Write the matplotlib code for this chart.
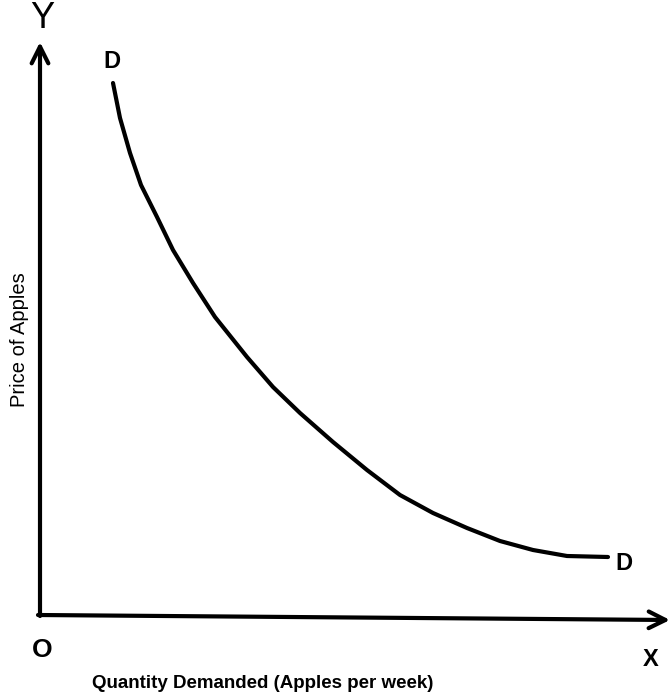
import numpy as np
import matplotlib
matplotlib.use("Agg")
import matplotlib.pyplot as plt

# demand curve (quantity, price) in arbitrary units
quantity = [73, 80, 90, 101, 117, 133, 153, 175, 207, 233, 260, 293,
            327, 360, 393, 427, 460, 493, 527, 568]
price = [531, 496, 461, 429, 397, 364, 331, 297, 257, 227, 201, 172,
         144, 119, 101, 86, 73, 64, 58, 57]

x_label = "Quantity Demanded (Apples per week)"
y_label = "Price of Apples"

plt.rcParams['font.family'] = ['Liberation Sans', 'DejaVu Sans']

fig = plt.figure(figsize=(6.72, 7.0), dpi=100)
ax = fig.add_axes([40 / 672, 86 / 700, 628 / 672, 572 / 700])
ax.set_xlim(0, 628)
ax.set_ylim(0, 572)
ax.axis('off')

# axes drawn as arrows
ax.annotate('', xy=(0, 572), xytext=(0, -2),
            arrowprops=dict(arrowstyle='->', lw=3, color='black',
                            mutation_scale=30, shrinkA=0, shrinkB=0),
            annotation_clip=False)
ax.annotate('', xy=(630, -6), xytext=(-2, -1),
            arrowprops=dict(arrowstyle='->', lw=3, color='black',
                            mutation_scale=30, shrinkA=0, shrinkB=0),
            annotation_clip=False)

ax.plot(quantity, price, color='black', lw=3, solid_capstyle='round',
        solid_joinstyle='round', clip_on=False)

ax.text(2, 596, 'Y', fontsize=26, ha='center', va='center', clip_on=False)
ax.text(quantity[0] - 1, price[0] + 21, 'D', fontsize=17, fontweight='bold',
        ha='center', va='center')
ax.text(quantity[-1] + 16, price[-1] - 6, 'D', fontsize=17, fontweight='bold',
        ha='center', va='center')
ax.text(2, -36, 'O', fontsize=19, fontweight='bold', ha='center', va='center',
        clip_on=False)
ax.text(611, -46, 'X', fontsize=17, fontweight='bold', ha='center', va='center',
        clip_on=False)
ax.text(223, -70, x_label, fontsize=13.5, fontweight='bold', ha='center',
        va='center', clip_on=False)
ax.text(-20, 274, y_label, fontsize=14.5, rotation=90, ha='center',
        va='center', clip_on=False)

fig.savefig('out.png', dpi=100)
